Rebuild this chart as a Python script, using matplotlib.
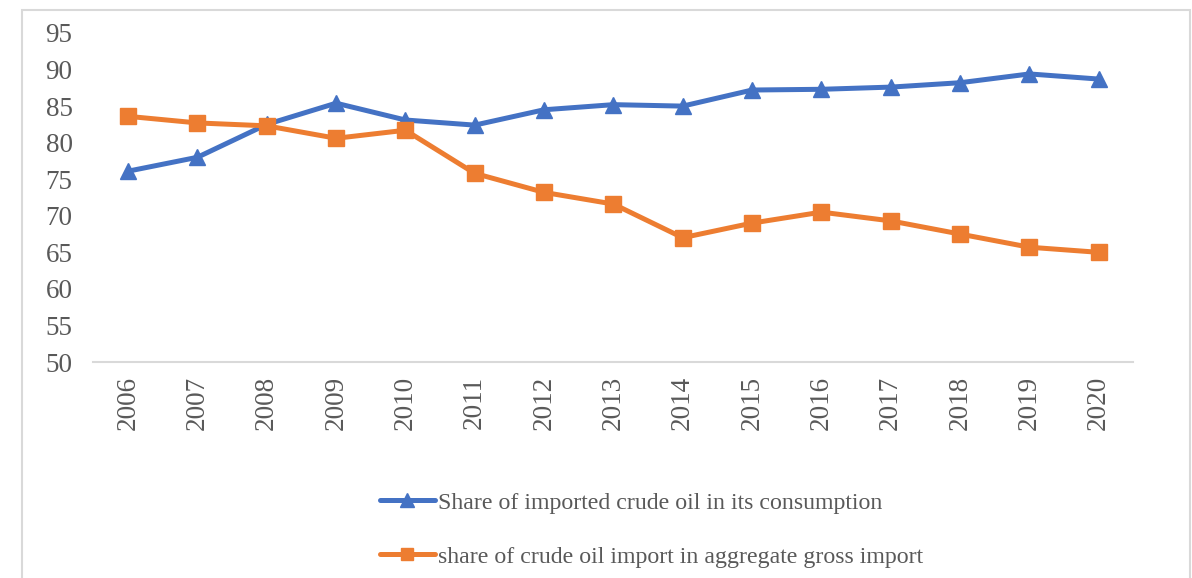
import matplotlib.pyplot as plt
from matplotlib.patches import Rectangle

# Datos
anios = ['2006', '2007', '2008', '2009', '2010', '2011', '2012', '2013',
         '2014', '2015', '2016', '2017', '2018', '2019', '2020']
consumo = [76.1, 78.0, 82.5, 85.4, 83.1, 82.4, 84.5, 85.2, 85.0, 87.2,
           87.3, 87.6, 88.2, 89.4, 88.7]
importacion = [83.6, 82.7, 82.3, 80.6, 81.7, 75.8, 73.2, 71.6, 67.0, 69.0,
               70.5, 69.3, 67.5, 65.7, 65.0]
etiquetas = ['Share of imported crude oil in its consumption',
             'share of crude oil import in aggregate gross import']

W, H = 1192, 578
plt.rcParams['font.family'] = ['Liberation Serif', 'DejaVu Serif']
gris = '#595959'

fig = plt.figure(figsize=(W / 100, H / 100), dpi=100)
fig.patches.append(Rectangle((22 / W, -0.05), (1190 - 22) / W, (H - 10) / H + 0.05,
                             transform=fig.transFigure, fill=False,
                             edgecolor='#d9d9d9', linewidth=1.5))

ax = fig.add_axes([93.4 / W, (H - 362) / H, 1040 / W, (362 - 33) / H])
x = range(len(anios))
ax.plot(x, consumo, color='#4472c4', linewidth=3.6, marker='^', markersize=12,
        label=etiquetas[0], solid_capstyle='round')
ax.plot(x, importacion, color='#ed7d31', linewidth=3.6, marker='s', markersize=11,
        label=etiquetas[1], solid_capstyle='round')

ax.set_xlim(-0.5, len(anios) - 0.5)
ax.set_ylim(50, 95)
ax.set_yticks(range(50, 96, 5))
ax.set_xticks(list(x))
ax.set_xticklabels(anios, rotation=90)
ax.tick_params(axis='both', length=0, labelsize=19.5, colors=gris)
ax.tick_params(axis='x', pad=10)
ax.tick_params(axis='y', pad=15)
for lado in ['top', 'right', 'left']:
    ax.spines[lado].set_visible(False)
ax.spines['bottom'].set_color('#d9d9d9')
ax.spines['bottom'].set_linewidth(1.5)

fig.legend(loc='upper left', bbox_to_anchor=(368 / W, 1 - 480 / H), frameon=False,
           fontsize=17.2, labelcolor=gris, labelspacing=1.35, handlelength=2.3,
           handletextpad=0.12, borderpad=0, markerscale=0.85)

fig.savefig('out.png', dpi=100)
